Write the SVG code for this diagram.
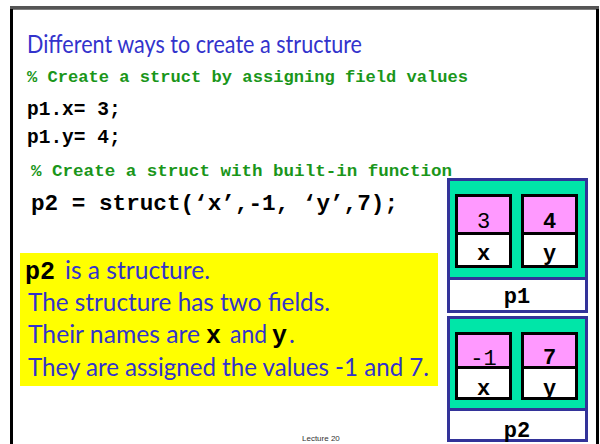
<svg xmlns="http://www.w3.org/2000/svg" width="600" height="444" viewBox="0 0 600 444">
<style>
.sans{font-family:Lato,"Open Sans","Noto Sans",sans-serif;fill:#3333CC;font-size:25px}
.mono{font-family:"Liberation Mono","Courier New",monospace;font-weight:bold;fill:#000}
.cmt{font-family:"Liberation Mono","Courier New",monospace;font-weight:bold;fill:#1A961A;font-size:17px}
.outer{fill:#00E6A8;stroke:#333399;stroke-width:3}
.label{fill:#fff;stroke:#333399;stroke-width:3}
.val{fill:#FF99FF;stroke:#000;stroke-width:3}
.fld{fill:#fff;stroke:#000;stroke-width:3}
.ct{font-family:"Liberation Mono","Courier New",monospace;font-size:22px;fill:#000;text-anchor:middle}
.b{font-weight:bold}
</style>
<rect width="600" height="444" fill="#fff"/>
<g id="frame">
<path d="M11.5,444 V8 H597.5 V444" fill="none" stroke="#000" stroke-width="3"/>
<line x1="10" y1="7.5" x2="599" y2="7.5" stroke="#555" stroke-width="3"/>
</g>
<g id="node-p1">
<rect class="outer" x="448.5" y="179.5" width="138" height="99"/>
<rect class="label" x="448.5" y="278.5" width="138" height="33"/>
<rect class="val" x="456.5" y="195.5" width="54" height="38"/>
<rect class="fld" x="456.5" y="233.5" width="54" height="33"/>
<rect class="val" x="522.5" y="195.5" width="54" height="38"/>
<rect class="fld" x="522.5" y="233.5" width="54" height="33"/>
<text class="ct" x="483.5" y="228">3</text>
<text class="ct b" x="549.5" y="228">4</text>
<text class="ct b" x="483.5" y="260">x</text>
<text class="ct b" x="549.5" y="260">y</text>
<text class="ct b" x="517" y="303">p1</text>
</g>
<g id="node-p2">
<rect class="outer" x="448.5" y="317.5" width="138" height="92"/>
<rect class="label" x="448.5" y="409.5" width="138" height="31"/>
<rect class="val" x="456.5" y="333.5" width="54" height="34"/>
<rect class="fld" x="456.5" y="367.5" width="54" height="31"/>
<rect class="val" x="522.5" y="333.5" width="54" height="34"/>
<rect class="fld" x="522.5" y="367.5" width="54" height="31"/>
<text class="ct" x="483.5" y="365">-1</text>
<text class="ct b" x="549.5" y="364">7</text>
<text class="ct b" x="483.5" y="395">x</text>
<text class="ct b" x="549.5" y="395">y</text>
<text class="ct b" x="517" y="437">p2</text>
</g>
<g id="title">
<text class="sans" x="27" y="52.5" textLength="335" lengthAdjust="spacingAndGlyphs">Different ways to create a structure</text>
</g>
<g id="code">
<text class="cmt" x="27" y="81.5" textLength="441" lengthAdjust="spacingAndGlyphs">% Create a struct by assigning field values</text>
<text class="mono" x="27" y="115" font-size="19.5">p1.x= 3;</text>
<text class="mono" x="27" y="143.3" font-size="19.5">p1.y= 4;</text>
<text class="cmt" x="31" y="176" font-size="17.5" textLength="421" lengthAdjust="spacingAndGlyphs">% Create a struct with built-in function</text>
<text class="mono" x="31" y="210" font-size="22" textLength="367" lengthAdjust="spacingAndGlyphs">p2 = struct(‘x’,-1, ‘y’,7);</text>
</g>
<g id="note">
<rect x="20" y="253" width="418" height="133" fill="#FFFF00"/>
<text class="mono" x="25" y="279" font-size="25">p2</text>
<text class="sans" x="65" y="279" textLength="145" lengthAdjust="spacingAndGlyphs">is a structure.</text>
<text class="sans" x="28" y="311" textLength="302" lengthAdjust="spacingAndGlyphs">The structure has two fields.</text>
<text class="sans" x="28" y="343" textLength="172" lengthAdjust="spacingAndGlyphs">Their names are</text>
<text class="mono" x="206" y="343" font-size="25">x</text>
<text class="sans" x="230" y="343" textLength="37" lengthAdjust="spacingAndGlyphs">and</text>
<text class="mono" x="272" y="343" font-size="25">y</text>
<text class="sans" x="289" y="343">.</text>
<text class="sans" x="28" y="376" textLength="401" lengthAdjust="spacingAndGlyphs">They are assigned the values -1 and 7.</text>
</g>
<g id="footer">
<text x="302" y="441" font-family="Liberation Sans,Arial,sans-serif" font-size="8" fill="#333">Lecture 20</text>
</g>
</svg>
